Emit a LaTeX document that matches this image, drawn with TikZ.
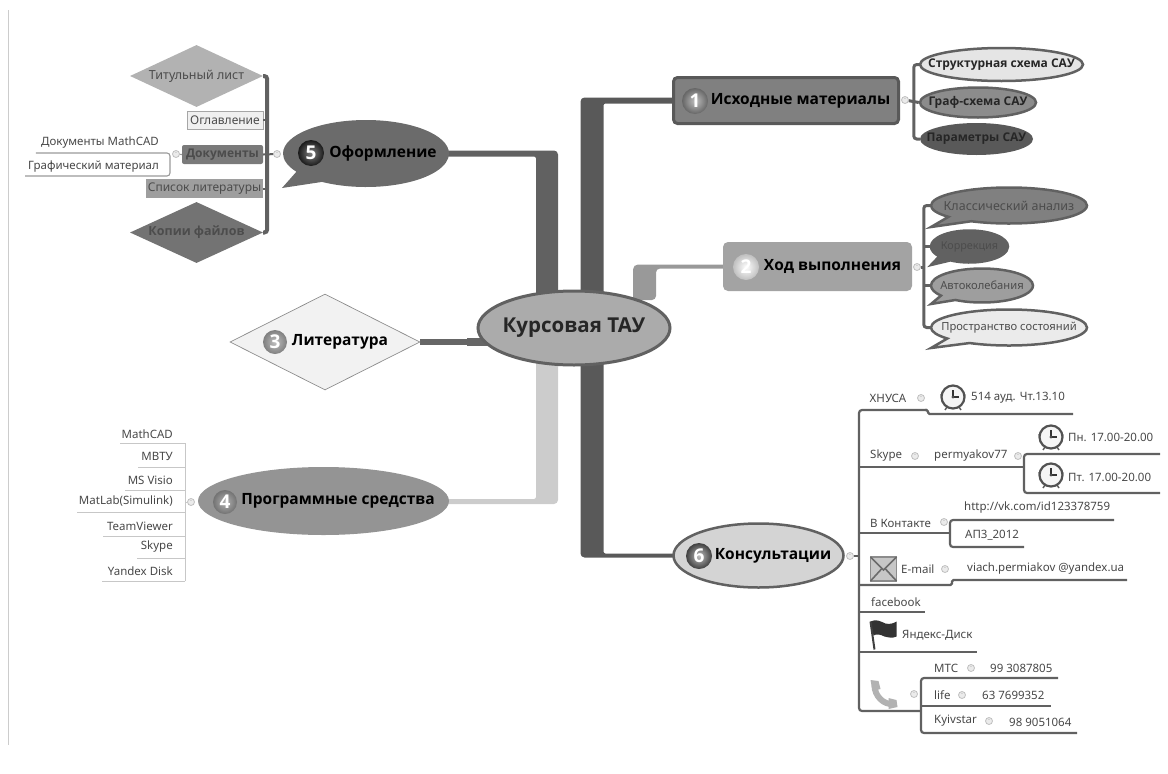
\documentclass[tikz,border=0pt]{standalone}
\usepackage{fontspec}
\setmainfont{Noto Sans}[BoldFont={Open Sans Bold}]
\usetikzlibrary{calc}
\usetikzlibrary{backgrounds}
\usetikzlibrary{shapes.geometric}
\usetikzlibrary{shapes.callouts}

\newcommand{\slimtext}[2][0pt]{\makebox[0pt]{\hspace{#1}#2}}
\newcommand{\pxfont}[1]{\fontsize{#1}{#1}\selectfont}

\tikzset{
    mainnode/.style={inner sep=0pt,font=\pxfont{15.5}\bfseries,text=black},
    subnode/.style={inner sep=0pt,font=\pxfont{12}\bfseries,text=black!85,shape=ellipse},
    bubblenode/.style={inner sep=0pt,font=\pxfont{12.5},text=black!70,shape=ellipse callout,callout pointer arc=22,line width=2.5pt,draw=black!62},
    cardnode/.style={inner sep=0pt,font=\pxfont{12},text=black!70,shape=rectangle},
    gemnode/.style={inner sep=0pt,font=\pxfont{12.5},text=black!70,shape=diamond},
    leaf/.style={inner sep=0pt,font=\pxfont{11.5},text=black!72},
    badge/.style={shape=circle,minimum size=26pt,inner sep=0pt,font=\pxfont{19}\bfseries,text=white,shading=radial},
    toggle/.style={shape=circle,minimum size=7pt,inner sep=0pt,draw=black!25,fill=black!8,line width=0.8pt,label={[inner sep=0pt,font=\pxfont{6},text=black!35]center:-}},
    spine/.style={line width=3pt,draw=black!62,rounded corners=3pt},
    twig/.style={line width=2.2pt,draw=black!62,rounded corners=3pt},
    softtwig/.style={line width=0.9pt,draw=black!22,rounded corners=2pt},
    doctwig/.style={line width=1.1pt,draw=black!40,rounded corners=3pt},
    clockicon/.pic={
        \draw[black!65,line width=1.5pt] (-6,10) -- (-8,13);
        \draw[black!65,line width=1.5pt] (6,10) -- (8,13);
        \fill[black!60] (-13,-3) arc (180:90:5) -- cycle;
        \fill[black!60] (13,-3) arc (0:90:5) -- cycle;
        \draw[black!68,fill=black!4,line width=2.2pt] (0,0) circle (11.5);
        \draw[black!80,line width=1.2pt] (0,-7) -- (0,0) -- (6,0);
        \fill[black!70] (0,0) circle (1.6);
    },
    mailicon/.pic={
        \draw[black!45,fill=black!22,line width=1.5pt] (-13,-12) rectangle (13,12);
        \draw[black!58,line width=1.6pt] (-13,-12) -- (0,1) -- (13,-12);
        \draw[black!58,line width=1.6pt] (-13,12) -- (-2,0);
        \draw[black!58,line width=1.6pt] (13,12) -- (2,0);
    },
    flagicon/.pic={
        \fill[black!80] (-13,-13) .. controls (-7,-16) and (-3,-13) .. (2,-11) .. controls (6,-10) and (10,-11) .. (13,-13) -- (13,2) .. controls (9,4) and (5,3) .. (1,2) .. controls (-3,0) and (-7,-1) .. (-10,1) -- cycle;
        \draw[black!75,line width=2pt] (-13,-13) -- (-9,15);
    },
    phoneicon/.pic={
        \draw[black!30,line width=6pt,line cap=round] (-9,-9) .. controls (-9,2) and (0,11) .. (10,10);
        \fill[black!30] (-13,-14) -- (-5,-13) -- (-3,-5) -- (-11,-3) -- cycle;
        \fill[black!30] (5,4) -- (13,6) -- (14,13) -- (5,15) -- cycle;
    },
}

\begin{document}
\begin{tikzpicture}[x=1pt,y=-1pt]
    \useasboundingbox (0,0) rectangle (1168,774);
    \draw[black!20,line width=1pt] (8,10) -- (8,745);

    % centre
    \node (root)[shape=ellipse,inner sep=0pt,minimum width=192pt,minimum height=74pt,fill=black!33,draw=black!62,line width=3pt,font=\pxfont{20.5}\bfseries,text=black!85] at (574,328) {\slimtext{Курсовая ТАУ}};

    % main topics
    \node (materials)[mainnode,shape=rectangle,rounded corners=4pt,minimum width=225pt,minimum height=46pt,fill=black!50,draw=black!65,line width=3pt] at (786,100.5) {\slimtext[29pt]{Исходные материалы}};
    \node (progress)[mainnode,shape=rectangle,rounded corners=5pt,minimum width=189pt,minimum height=49pt,fill=black!36] at (817.5,266.5) {\slimtext[30pt]{Ход выполнения}};
    \node (books)[mainnode,shape=diamond,minimum width=190pt,minimum height=96pt,fill=black!5,draw=black!45,line width=0.7pt] at (325,342) {\slimtext[30pt]{Литература}};
    \node (software)[mainnode,shape=ellipse,minimum width=251pt,minimum height=68pt,fill=black!42] at (323.5,501) {\slimtext[29pt]{Программные средства}};
    \node (design)[mainnode,shape=ellipse callout,minimum width=166pt,minimum height=67pt,fill=black!58,callout pointer arc=25,callout absolute pointer={(282,188)}] at (366,153.5) {\slimtext[34pt]{Оформление}};
    \node (consult)[mainnode,shape=ellipse,minimum width=170pt,minimum height=64pt,fill=black!17,draw=black!62,line width=2.5pt] at (758.5,555.5) {\slimtext[29pt]{Консультации}};

    \node (badgeone)[badge,inner color=black!25,outer color=black!60] at (695,101) {1};
    \node (badgetwo)[badge,inner color=white,outer color=black!25] at (746,267) {2};
    \node (badgethree)[badge,inner color=black!25,outer color=black!50,minimum size=24pt] at (275,342) {3};
    \node (badgefour)[badge,inner color=black!30,outer color=black!55,minimum size=24pt] at (225,502) {4};
    \node (badgefive)[badge,inner color=black!50,outer color=black!90] at (311,153) {5};
    \node (badgesix)[badge,inner color=black!25,outer color=black!75] at (699,556) {6};

    % thick branches behind the centre
    \begin{pgfonlayer}{background}
        \fill[black!65] ($(root)+(6.5,0)$) [rounded corners=4pt] |- ($(materials.center)+(0,-3)$) [sharp corners] -- ($(materials.center)+(0,3)$) [rounded corners=2pt] -| ($(root)+(29.5,0)$) [sharp corners] -- cycle;
        \fill[black!62] ($(root)+(-38,0)$) [rounded corners=2pt] |- ($(design.center)+(0,3)$) [sharp corners] -- ($(design.center)+(0,-3)$) [rounded corners=4pt] -| ($(root)+(-16,0)$) [sharp corners] -- cycle;
        \fill[black!40] ($(root)+(59,-28)$) [rounded corners=5pt] |- ($(progress.center)+(0,-2)$) [sharp corners] -- ($(progress.center)+(0,2)$) [rounded corners=4pt] -| ($(root)+(82,-28)$) [sharp corners] -- cycle;
        \fill[black!20] ($(root)+(-38,0)$) [rounded corners=2pt] |- ($(software.center)+(0,-2)$) [sharp corners] -- ($(software.center)+(0,3)$) [rounded corners=4pt] -| ($(root)+(-16,0)$) [sharp corners] -- cycle;
        \fill[black!65] ($(root)+(6.5,0)$) [rounded corners=4pt] |- ($(consult.center)+(0,2)$) [sharp corners] -- ($(consult.center)+(0,-2)$) [rounded corners=2pt] -| ($(root)+(29.5,0)$) [sharp corners] -- cycle;
        \draw[black!60,line width=5.5pt] (books.east) -- (books.east -| root.center);
        \draw[black!60,line width=7.5pt] ($(books.east)+(47,0)$) -- (books.east -| root.center);
    \end{pgfonlayer}

    % source material
    \node (structure)[subnode,minimum width=163pt,minimum height=33pt,fill=black!10,draw=black!62,line width=2.5pt] at (1001.5,64.5) {\slimtext{Структурная схема САУ}};
    \node (graph)[subnode,minimum width=116pt,minimum height=30pt,fill=black!45,draw=black!62,line width=2.5pt] at (978,102.5) {\slimtext{Граф-схема САУ}};
    \node (params)[subnode,minimum width=113pt,minimum height=32pt,fill=black!65] at (976.5,139) {\slimtext{Параметры САУ}};
    \node (materialstoggle)[toggle] at (905,100) {};
    \draw[spine] (structure.west) -- ++(-5,0) |- (params.west);
    \draw[spine] (materialstoggle) -- (graph.west);

    % progress
    \node (classic)[bubblenode,minimum width=156pt,minimum height=36pt,fill=black!50,callout absolute pointer={(931,227)}] at (1009,205.5) {\slimtext{Классический анализ}};
    \node (correction)[bubblenode,font=\pxfont{10.8},minimum width=77pt,minimum height=32pt,fill=black!62,callout absolute pointer={(931,265)}] at (969.5,246.5) {\slimtext{Коррекция}};
    \node (selfosc)[bubblenode,font=\pxfont{11.2},minimum width=102pt,minimum height=34pt,fill=black!38,callout absolute pointer={(931,304)}] at (982,285.5) {\slimtext{Автоколебания}};
    \node (statespace)[bubblenode,font=\pxfont{11.2},minimum width=156pt,minimum height=36pt,fill=black!8,callout absolute pointer={(931,348)}] at (1009,327.5) {\slimtext{Пространство состояний}};
    \node (progresstoggle)[toggle] at (917,267) {};
    \draw[spine] (classic.west) -- ++(-6,0) |- (statespace.west);
    \draw[spine] (correction.west) -- ++(-6,0);
    \draw[spine] (selfosc.west) -- ++(-6,0);
    \draw[spine] (progresstoggle) -- ++(8,0);

    % design
    \node (titlepage)[gemnode,minimum width=133pt,minimum height=62pt,fill=black!30] at (196.5,76) {\slimtext{Титульный лист}};
    \node (contents)[cardnode,minimum width=76pt,minimum height=18pt,fill=black!6,draw=black!35,line width=0.7pt] at (225,120) {\slimtext{Оглавление}};
    \node (docs)[cardnode,rounded corners=2pt,font=\pxfont{12}\bfseries,minimum width=81pt,minimum height=19pt,fill=black!52] at (222.5,154.5) {\slimtext{Документы}};
    \node (biblio)[cardnode,minimum width=117pt,minimum height=19pt,fill=black!38] at (204.5,188.5) {\slimtext{Список литературы}};
    \node (copies)[gemnode,font=\pxfont{12.5}\bfseries,minimum width=133pt,minimum height=61pt,fill=black!55] at (196.5,232.5) {\slimtext{Копии файлов}};
    \node (designtoggle)[toggle] at (277,154) {};
    \draw[black!62,line width=4pt,rounded corners=3pt] (titlepage.east) -- ++(4,0) |- (copies.east);
    \draw[black!62,line width=2pt] (designtoggle) -- (docs.east);
    \draw[black!62,line width=2pt] (contents.east) -- ++(4,0);
    \draw[black!62,line width=2pt] (biblio.east) -- ++(4,0);

    \node (mathcaddocs)[leaf] at (100,143) {Документы MathCAD};
    \node (drawings)[leaf] at (93.5,167) {Графический материал};
    \node (docstoggle)[toggle] at (176,154) {};
    \coordinate (docsjoint) at (170,153);
    \draw[doctwig] (docsjoint -| mathcaddocs.west) ++(-5,0) -- (docsjoint) -- ++(0,23) -- (25,176);
    \draw[doctwig] (docs.west) -- (docstoggle);

    % software
    \node (softtoggle)[toggle] at (191,502) {};
    \coordinate (softjoint) at (185,443);
    \draw[softtwig] (softjoint) -- ++(0,138);
    \draw[softtwig] (softtoggle) -- (softjoint |- softtoggle);
    \foreach \name/\tool/\ty/\ly/\lx in {
        mathcad/MathCAD/434/443/120,
        mvtu/МВТУ/456/467/138,
        visio/MS Visio/480/490/125,
        matlab/MatLab(Simulink)/501/512/77,
        teamviewer/TeamViewer/526/536/103,
        skype/Skype/547/558/137,
        yandex/Yandex Disk/571/581/102}
    {
        \node (\name)[leaf,anchor=east] at (173,\ty) {\tool};
        \draw[softtwig] (185,\ly) -- (\lx,\ly);
    }

    % consultations
    \node (consulttoggle)[toggle] at (850,556) {};
    \coordinate (consultspine) at (859,410);
    \draw[twig] (consulttoggle) -- (consultspine |- consulttoggle);
    \draw[twig] (921,711) -- (859,711) -- (consultspine) -- (927,410);
    \draw[twig,rounded corners=1.5pt] (925,410) -- (928,410) -- (928,414) -- (1073,414);

    \node (hnusa)[leaf] at (888,398) {ХНУСА};
    \node (hnusatoggle)[toggle] at (921,398) {};
    \pic (hnusaclock) at (953,397) {clockicon};
    \node (hnusaroom)[leaf,anchor=west] at (971,398) {514 ауд. Чт.13.10};

    \node (skypelabel)[leaf,anchor=west] at (870,456) {Skype};
    \node (skypetoggle)[toggle] at (915,456) {};
    \node (skypename)[leaf,anchor=west] at (934,456) {permyakov77};
    \node (nametoggle)[toggle] at (1018,456) {};
    \pic (monclock) at (1051,437) {clockicon};
    \pic (friclock) at (1051,475) {clockicon};
    \node (mondays)[leaf,anchor=west] at (1068,437) {Пн. 17.00-20.00};
    \node (fridays)[leaf,anchor=west] at (1068,477) {Пт. 17.00-20.00};
    \coordinate (skypejoint) at (1024,467);
    \draw[twig] (consultspine |- skypejoint) -- (skypejoint);
    \draw[twig] (1160,454) -- (skypejoint |- 0,454) -- (skypejoint |- 0,493) -- (1160,493);

    \node (vklabel)[leaf,anchor=west] at (870,523) {В Контакте};
    \node (vktoggle)[toggle] at (944,522) {};
    \node (vkpage)[leaf,anchor=west] at (964,508) {http://vk.com/id123378759};
    \node (vkgroup)[leaf,anchor=west] at (965,535) {АП3\_2012};
    \coordinate (vkjoint) at (950,533);
    \draw[twig] (consultspine |- vkjoint) -- (vkjoint);
    \draw[twig] (1114,520) -- (vkjoint |- 0,520) -- (vkjoint |- 0,547) -- (1024,547);

    \pic (mail) at (883.5,569) {mailicon};
    \node (emaillabel)[leaf,anchor=west] at (901,569) {E-mail};
    \node (emailtoggle)[toggle] at (945,569) {};
    \node (emailaddress)[leaf,anchor=west] at (967,569) {viach.permiakov @yandex.ua};
    \draw[twig,rounded corners=1.5pt] (consultspine |- 0,585) -- (952,585) -- (952,580) -- (1127,580);

    \node (facebook)[leaf,anchor=west] at (871,602) {facebook};
    \draw[twig] (consultspine |- 0,612) -- (925,612);

    \pic (flag) at (883.5,634.5) {flagicon};
    \node (yadisk)[leaf,anchor=west] at (902,635) {Яндекс-Диск};
    \draw[twig] (consultspine |- 0,652) -- (977,652);

    \pic (phone) at (883.5,694) {phoneicon};
    \node (phonetoggle)[toggle] at (914,694) {};
    \coordinate (phonejoint) at (921,711);
    \node (mts)[leaf,anchor=west] at (934,668) {МТС};
    \node (mtstoggle)[toggle] at (971,668) {};
    \node (mtsnumber)[leaf,anchor=west] at (990,668) {99 3087805};
    \node (life)[leaf,anchor=west] at (934,695) {life};
    \node (lifetoggle)[toggle] at (962,695) {};
    \node (lifenumber)[leaf,anchor=west] at (982,695) {63 7699352};
    \node (kyivstar)[leaf,anchor=west] at (934,721) {Kyivstar};
    \node (kyivstartoggle)[toggle] at (989,721) {};
    \node (kyivstarnumber)[leaf,anchor=west] at (1009,722) {98 9051064};
    \draw[twig] (1058,678) -- (phonejoint |- 0,678) -- (phonejoint |- 0,733) -- (1077,733);
    \draw[twig] (phonejoint |- 0,706) -- (1051,706);
\end{tikzpicture}
\end{document}
